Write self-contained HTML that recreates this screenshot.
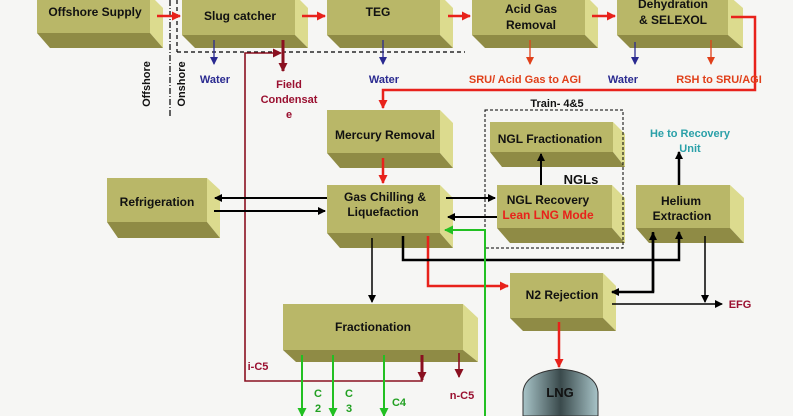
<!DOCTYPE html>
<html><head><meta charset="utf-8">
<style>
html,body{margin:0;padding:0;background:#f6f6f4;}
svg{display:block;font-family:"Liberation Sans",Arial,sans-serif;font-weight:bold;}
</style></head>
<body>
<svg width="793" height="416" viewBox="0 0 793 416" xmlns="http://www.w3.org/2000/svg">
<defs>
<marker id="ab" markerWidth="8" markerHeight="8" refX="7" refY="4" orient="auto" markerUnits="userSpaceOnUse"><path d="M0,0 L8,4 L0,8 z" fill="#000"/></marker>
<marker id="ar" markerWidth="9" markerHeight="9" refX="8" refY="4.5" orient="auto" markerUnits="userSpaceOnUse"><path d="M0,0 L9,4.5 L0,9 z" fill="#e8221b"/></marker>
<marker id="ad" markerWidth="9" markerHeight="9" refX="8" refY="4.5" orient="auto" markerUnits="userSpaceOnUse"><path d="M0,0 L9,4.5 L0,9 z" fill="#8a1020"/></marker>
<marker id="au" markerWidth="8" markerHeight="8" refX="7" refY="4" orient="auto" markerUnits="userSpaceOnUse"><path d="M0,0 L8,4 L0,8 z" fill="#2a2a90"/></marker>
<marker id="ao" markerWidth="8" markerHeight="8" refX="7" refY="4" orient="auto" markerUnits="userSpaceOnUse"><path d="M0,0 L8,4 L0,8 z" fill="#e0401a"/></marker>
<marker id="ag" markerWidth="9" markerHeight="9" refX="8" refY="4.5" orient="auto" markerUnits="userSpaceOnUse"><path d="M0,0 L9,4.5 L0,9 z" fill="#22c022"/></marker>
<linearGradient id="tank" x1="0" x2="1" y1="0" y2="0">
<stop offset="0" stop-color="#a8c4c8"/><stop offset="0.5" stop-color="#3a4a4c"/><stop offset="1" stop-color="#a8c4c8"/></linearGradient>
</defs>

<!-- boxes: front, right, bottom -->
<g stroke="none">
<!-- helper pattern: right: (x+w,y)(x+w+13,y+13)(x+w+13,y+h+15)(x+w,y+h); bottom: (x,y+h)(x+w,y+h)(x+w+13,y+h+15)(x+5,y+h+15) -->
<!-- Offshore Supply 37,-5,113,38 -->
<polygon points="150,-5 163,8 163,48 150,33" fill="#dcdb8e"/>
<polygon points="37,33 150,33 163,48 50,48" fill="#8f8b45"/>
<rect x="37" y="-5" width="113" height="38" fill="#b9b768"/>
<!-- Slug catcher -->
<polygon points="295,-5 308,8 308,48 295,35" fill="#dcdb8e"/>
<polygon points="182,35 295,35 308,48 195,48" fill="#8f8b45"/>
<rect x="182" y="-5" width="113" height="40" fill="#b9b768"/>
<!-- TEG -->
<polygon points="440,-5 453,8 453,48 440,35" fill="#dcdb8e"/>
<polygon points="327,35 440,35 453,48 340,48" fill="#8f8b45"/>
<rect x="327" y="-5" width="113" height="40" fill="#b9b768"/>
<!-- Acid gas -->
<polygon points="585,-5 598,8 598,48 585,35" fill="#dcdb8e"/>
<polygon points="472,35 585,35 598,48 485,48" fill="#8f8b45"/>
<rect x="472" y="-5" width="113" height="40" fill="#b9b768"/>
<!-- Dehydration -->
<polygon points="728,-5 743,8 743,48 728,35" fill="#dcdb8e"/>
<polygon points="617,35 728,35 743,48 630,48" fill="#8f8b45"/>
<rect x="617" y="-5" width="111" height="40" fill="#b9b768"/>
<!-- Mercury -->
<polygon points="440,110 453,123 453,168 440,153" fill="#dcdb8e"/>
<polygon points="327,153 440,153 453,168 340,168" fill="#8f8b45"/>
<rect x="327" y="110" width="113" height="43" fill="#b9b768"/>
<!-- Gas Chilling -->
<polygon points="440,185 453,198 453,248 440,233" fill="#dcdb8e"/>
<polygon points="327,233 440,233 453,248 340,248" fill="#8f8b45"/>
<rect x="327" y="185" width="113" height="48" fill="#b9b768"/>
<!-- Refrigeration -->
<polygon points="207,178 220,190 220,238 207,222" fill="#dcdb8e"/>
<polygon points="107,222 207,222 220,238 118,238" fill="#8f8b45"/>
<rect x="107" y="178" width="100" height="44" fill="#b9b768"/>
<!-- NGL Fractionation -->
<polygon points="613,122 625,134 625,167 613,152" fill="#dcdb8e"/>
<polygon points="490,152 613,152 625,167 502,167" fill="#8f8b45"/>
<rect x="490" y="122" width="123" height="30" fill="#b9b768"/>
<!-- NGL Recovery -->
<polygon points="612,185 625,198 625,243 612,228" fill="#dcdb8e"/>
<polygon points="497,228 612,228 625,243 510,243" fill="#8f8b45"/>
<rect x="497" y="185" width="115" height="43" fill="#b9b768"/>
<!-- Helium -->
<polygon points="730,185 744,198 744,243 730,228" fill="#dcdb8e"/>
<polygon points="636,228 730,228 744,243 649,243" fill="#8f8b45"/>
<rect x="636" y="185" width="94" height="43" fill="#b9b768"/>
<!-- N2 Rejection -->
<polygon points="603,273 616,286 616,331 603,318" fill="#dcdb8e"/>
<polygon points="510,318 603,318 616,331 523,331" fill="#8f8b45"/>
<rect x="510" y="273" width="93" height="45" fill="#b9b768"/>
<!-- Fractionation -->
<polygon points="463,304 478,318 478,362 463,350" fill="#dcdb8e"/>
<polygon points="283,350 463,350 478,362 296,362" fill="#8f8b45"/>
<rect x="283" y="304" width="180" height="46" fill="#b9b768"/>
<!-- LNG tank -->
<path d="M523,416 L523,392 Q525,372 560,369 Q596,372 598,392 L598,416 Z" fill="url(#tank)" stroke="#333" stroke-width="1"/>
</g>

<!-- dashed / region lines -->
<line x1="177" y1="52" x2="465" y2="52" stroke="#000" stroke-width="1.2" stroke-dasharray="4,3"/>
<line x1="177" y1="0" x2="177" y2="52" stroke="#000" stroke-width="1.2" stroke-dasharray="4,3"/>
<line x1="170" y1="0" x2="170" y2="117" stroke="#000" stroke-width="1.2" stroke-dasharray="6,2,1,2"/>
<rect x="485" y="110" width="138" height="138" fill="none" stroke="#000" stroke-width="1" stroke-dasharray="3,2"/>

<!-- red main flow -->
<g stroke="#e8221b" stroke-width="2.5" fill="none">
<line x1="157" y1="16" x2="180" y2="16" marker-end="url(#ar)"/>
<line x1="302" y1="16" x2="325" y2="16" marker-end="url(#ar)"/>
<line x1="448" y1="16" x2="470" y2="16" marker-end="url(#ar)"/>
<line x1="592" y1="16" x2="615" y2="16" marker-end="url(#ar)"/>
<polyline points="731,17 755,17 755,90 383,90 383,108" marker-end="url(#ar)"/>
<line x1="383" y1="158" x2="383" y2="183" marker-end="url(#ar)"/>
<polyline points="428,236 428,286 508,286" marker-end="url(#ar)"/>
<line x1="559" y1="322" x2="559" y2="367" marker-end="url(#ar)"/>
</g>
<!-- dark red -->
<g stroke="#8a1020" fill="none">
<line x1="283" y1="40" x2="283" y2="71" stroke-width="3" marker-end="url(#ad)"/>
<polyline points="422,355 422,381 245,381 245,53 281,53" stroke-width="1.6" marker-end="url(#ad)"/>
<line x1="422" y1="355" x2="422" y2="380" stroke-width="3" marker-end="url(#ad)"/>
<line x1="459" y1="353" x2="459" y2="377" stroke-width="1.6" marker-end="url(#ad)"/>
</g>
<!-- blue water -->
<g stroke="#2a2a90" stroke-width="1.3">
<line x1="214" y1="40" x2="214" y2="64" marker-end="url(#au)"/>
<line x1="383" y1="40" x2="383" y2="64" marker-end="url(#au)"/>
<line x1="635" y1="42" x2="635" y2="64" marker-end="url(#au)"/>
</g>
<g stroke="#e0401a" stroke-width="1.3">
<line x1="530" y1="40" x2="530" y2="64" marker-end="url(#ao)"/>
<line x1="711" y1="40" x2="711" y2="64" marker-end="url(#ao)"/>
</g>
<!-- black -->
<g stroke="#000" stroke-width="2" fill="none">
<line x1="327" y1="198" x2="215" y2="198" marker-end="url(#ab)"/>
<line x1="214" y1="211" x2="325" y2="211" marker-end="url(#ab)"/>
<line x1="446" y1="198" x2="495" y2="198" marker-end="url(#ab)"/>
<line x1="497" y1="217" x2="448" y2="217" marker-end="url(#ab)"/>
<line x1="541" y1="185" x2="541" y2="154" marker-end="url(#ab)"/>
<line x1="679" y1="185" x2="679" y2="152" stroke-width="2.5" marker-end="url(#ab)"/>
<polyline points="403,236 403,260 679,260 679,232" stroke-width="2.5" marker-end="url(#ab)"/>
<polyline points="653,232 653,292 612,292" stroke-width="2.5" marker-end="url(#ab)"/>
<polyline points="653,292 653,233" stroke-width="2.5" marker-end="url(#ab)"/>
</g>
<g stroke="#000" stroke-width="1.5" fill="none">
<line x1="372" y1="238" x2="372" y2="302" marker-end="url(#ab)"/>
<line x1="705" y1="236" x2="705" y2="302" marker-end="url(#ab)"/>
<line x1="612" y1="304" x2="722" y2="304" marker-end="url(#ab)"/>
</g>
<!-- green -->
<g stroke="#22c022" stroke-width="2" fill="none">
<polyline points="485,416 485,230 445,230" marker-end="url(#ag)"/>
<line x1="302" y1="355" x2="302" y2="416" marker-end="url(#ag)"/>
<line x1="333" y1="355" x2="333" y2="416" marker-end="url(#ag)"/>
<line x1="384" y1="355" x2="384" y2="416" marker-end="url(#ag)"/>
</g>

<!-- text -->
<g font-size="12" fill="#111" text-anchor="middle">
<text x="95" y="16">Offshore Supply</text>
<text x="240" y="20">Slug catcher</text>
<text x="378" y="16">TEG</text>
<text x="531" y="13">Acid Gas</text>
<text x="531" y="29">Removal</text>
<text x="673" y="8">Dehydration</text>
<text x="673" y="24">&amp; SELEXOL</text>
<text x="385" y="139">Mercury Removal</text>
<text x="385" y="201">Gas Chilling &amp;</text>
<text x="383" y="216">Liquefaction</text>
<text x="157" y="206">Refrigeration</text>
<text x="550" y="143">NGL Fractionation</text>
<text x="548" y="204">NGL Recovery</text>
<text x="548" y="219" fill="#e8221b">Lean LNG Mode</text>
<text x="581" y="184" font-size="13">NGLs</text>
<text x="681" y="205">Helium</text>
<text x="682" y="220">Extraction</text>
<text x="562" y="299">N2 Rejection</text>
<text x="373" y="331">Fractionation</text>
<text x="560" y="397" font-size="13">LNG</text>
<text x="557" y="107" font-size="11">Train- 4&amp;5</text>
</g>
<g font-size="11" text-anchor="middle">
<text x="215" y="83" fill="#2a2a90">Water</text>
<text x="384" y="83" fill="#2a2a90">Water</text>
<text x="623" y="83" fill="#2a2a90">Water</text>
<text x="525" y="83" fill="#e0401a">SRU/ Acid Gas to AGI</text>
<text x="719" y="83" fill="#e0401a">RSH to SRU/AGI</text>
<text x="289" y="88" fill="#9a1030">Field</text>
<text x="289" y="103" fill="#9a1030">Condensat</text>
<text x="289" y="118" fill="#9a1030">e</text>
<text x="690" y="137" fill="#2aa0a8">He to Recovery</text>
<text x="690" y="152" fill="#2aa0a8">Unit</text>
<text x="740" y="308" fill="#9a1030">EFG</text>
<text x="258" y="370" fill="#9a1030">i-C5</text>
<text x="462" y="399" fill="#9a1030">n-C5</text>
<text x="318" y="397" fill="#22a022">C</text>
<text x="318" y="412" fill="#22a022">2</text>
<text x="349" y="397" fill="#22a022">C</text>
<text x="349" y="412" fill="#22a022">3</text>
<text x="399" y="406" fill="#22a022">C4</text>
<text transform="translate(150,84) rotate(-90)" fill="#111">Offshore</text>
<text transform="translate(185,84) rotate(-90)" fill="#111">Onshore</text>
</g>
</svg>
</body></html>
